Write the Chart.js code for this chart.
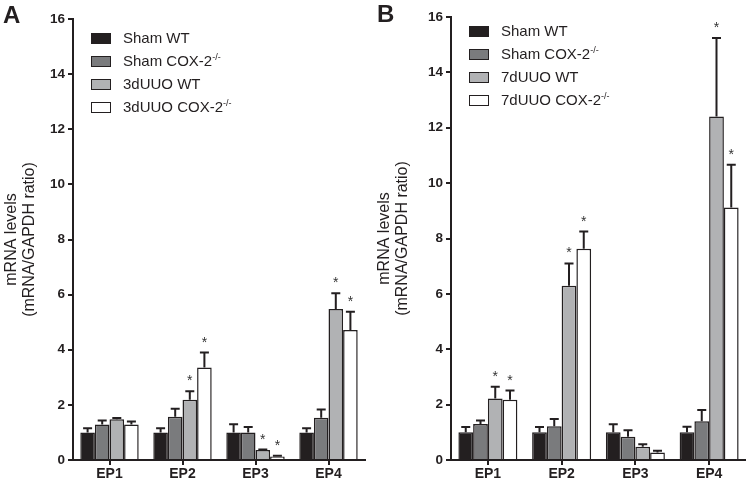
<!DOCTYPE html>
<html>
<head>
<meta charset="utf-8">
<script src="https://cdn.jsdelivr.net/npm/chart.js@4.4.1/dist/chart.umd.min.js"></script>
<style>
  body { margin: 0; background: #fff; font-family: "Liberation Sans", Arial, sans-serif; }
  .panel { position: absolute; top: 0; width: 373px; height: 486px; }
  .letter { position: absolute; font-weight: bold; font-size: 24px; color: #231f20; }
  .legend { position: absolute; font-size: 15px; color: #231f20; }
  .legend div { height: 23px; line-height: 23px; white-space: nowrap; }
  .legend span.box { display: inline-block; width: 18px; height: 9px; border: 1.5px solid #231f20; vertical-align: middle; margin-right: 12px; position: relative; top: -1px; }
  .legend sup { font-size: 9px; vertical-align: 6px; line-height: 0; }
</style>
</head>
<body>
<div class="panel" style="left:0"><canvas id="chartA" width="373" height="486"></canvas></div>
<div class="panel" style="left:373px"><canvas id="chartB" width="373" height="486"></canvas></div>
<div class="letter" style="left:3px;top:1px">A</div>
<div class="letter" style="left:377px;top:0px">B</div>
<div class="legend" style="left:91px;top:26px">
  <div><span class="box" style="background:#231f20"></span>Sham WT</div>
  <div><span class="box" style="background:#7a7b7d"></span>Sham COX-2<sup>-/-</sup></div>
  <div><span class="box" style="background:#b1b2b4"></span>3dUUO WT</div>
  <div><span class="box" style="background:#fff"></span>3dUUO COX-2<sup>-/-</sup></div>
</div>
<div class="legend" style="left:469px;top:19px">
  <div><span class="box" style="background:#231f20"></span>Sham WT</div>
  <div><span class="box" style="background:#7a7b7d"></span>Sham COX-2<sup>-/-</sup></div>
  <div><span class="box" style="background:#b1b2b4"></span>7dUUO WT</div>
  <div><span class="box" style="background:#fff"></span>7dUUO COX-2<sup>-/-</sup></div>
</div>
<script>
const categories = ['EP1', 'EP2', 'EP3', 'EP4'];
const yTicks = [0, 2, 4, 6, 8, 10, 12, 14, 16];

// panel A: means, SEM and significance marks
const aShamWT = [1.0, 1.0, 1.0, 1.0];
const aShamWTErr = [0.15, 0.15, 0.30, 0.15];
const aShamKO = [1.29, 1.57, 1.0, 1.53];
const aShamKOErr = [0.14, 0.29, 0.20, 0.30];
const aUuoWT = [1.48, 2.19, 0.36, 5.48];
const aUuoWTErr = [0.04, 0.30, 0.02, 0.57];
const aUuoKO = [1.29, 3.36, 0.13, 4.72];
const aUuoKOErr = [0.11, 0.54, 0.02, 0.66];
const aUuoWTSig = [false, true, true, true];
const aUuoKOSig = [false, true, true, true];

// panel B
const bShamWT = [1.0, 1.0, 1.0, 1.0];
const bShamWTErr = [0.19, 0.19, 0.29, 0.20];
const bShamKO = [1.30, 1.22, 0.84, 1.40];
const bShamKOErr = [0.13, 0.26, 0.23, 0.41];
const bUuoWT = [2.22, 6.29, 0.48, 12.41];
const bUuoWTErr = [0.43, 0.81, 0.09, 2.83];
const bUuoKO = [2.18, 7.63, 0.27, 9.12];
const bUuoKOErr = [0.33, 0.62, 0.06, 1.54];
const bUuoWTSig = [true, true, false, true];
const bUuoKOSig = [true, true, false, true];

const dark = '#231f20';
const fills = ['#231f20', '#7a7b7d', '#b1b2b4', '#ffffff'];
const noSig = [false, false, false, false];

// draws upper error bars and asterisks from each dataset's err/sig arrays
const errorBars = {
  id: 'errorBars',
  afterDatasetsDraw(chart) {
    const ctx = chart.ctx;
    const y = chart.scales.y;
    ctx.save();
    chart.data.datasets.forEach((ds, i) => {
      const meta = chart.getDatasetMeta(i);
      meta.data.forEach((bar, j) => {
        const top = y.getPixelForValue(ds.data[j] + ds.err[j]);
        ctx.strokeStyle = dark;
        ctx.lineWidth = 2;
        ctx.beginPath();
        ctx.moveTo(bar.x, bar.y);
        ctx.lineTo(bar.x, top);
        ctx.moveTo(bar.x - 4.5, top);
        ctx.lineTo(bar.x + 4.5, top);
        ctx.stroke();
        if (ds.sig[j]) {
          ctx.fillStyle = '#333';
          ctx.font = '14px "Liberation Sans", Arial';
          ctx.textAlign = 'center';
          ctx.textBaseline = 'alphabetic';
          ctx.fillText('*', bar.x, top - 6);
        }
      });
    });
    ctx.restore();
  }
};

function makeChart(id, series, errs, sigs, yWidth, padRight, padTop) {
  const labels = ['Sham WT', 'Sham COX-2-/-', 'UUO WT', 'UUO COX-2-/-'];
  new Chart(document.getElementById(id), {
    type: 'bar',
    data: {
      labels: categories,
      datasets: series.map((s, i) => ({
        label: labels[i],
        data: s,
        err: errs[i],
        sig: sigs[i],
        backgroundColor: fills[i],
        borderColor: dark,
        borderWidth: 1.5,
        categoryPercentage: 0.8,
        barPercentage: 1.0
      }))
    },
    options: {
      responsive: false,
      animation: false,
      layout: { padding: { top: padTop, right: padRight, left: 0, bottom: 0 } },
      plugins: { legend: { display: false }, tooltip: { enabled: false } },
      scales: {
        x: {
          grid: { offset: false, drawOnChartArea: false, tickLength: 5, lineWidth: 2, color: dark },
          border: { width: 2, color: dark },
          ticks: { color: dark, font: { family: '"Liberation Sans", Arial', size: 14, weight: 'bold' }, padding: 1 },
          afterFit(scale) { scale.height = 26; }
        },
        y: {
          min: 0,
          max: 16,
          afterBuildTicks(scale) { scale.ticks = yTicks.map(v => ({ value: v })); },
          grid: { drawOnChartArea: false, tickLength: 5, lineWidth: 2, color: dark },
          border: { width: 2, color: dark },
          ticks: { color: dark, font: { family: '"Liberation Sans", Arial', size: 13.5, weight: 'bold' }, padding: 3 },
          title: {
            display: true,
            text: ['mRNA levels', '(mRNA/GAPDH ratio)'],
            color: dark,
            font: { family: '"Liberation Sans", Arial', size: 16, lineHeight: 1.15 },
            padding: { top: 2, bottom: 4 }
          },
          afterFit(scale) { scale.width = yWidth; }
        }
      }
    },
    plugins: [errorBars]
  });
}

makeChart('chartA',
  [aShamWT, aShamKO, aUuoWT, aUuoKO],
  [aShamWTErr, aShamKOErr, aUuoWTErr, aUuoKOErr],
  [noSig, noSig, aUuoWTSig, aUuoKOSig],
  73, 8, 19);
makeChart('chartB',
  [bShamWT, bShamKO, bUuoWT, bUuoKO],
  [bShamWTErr, bShamKOErr, bUuoWTErr, bUuoKOErr],
  [noSig, noSig, bUuoWTSig, bUuoKOSig],
  78, 0, 17);
</script>
</body>
</html>
